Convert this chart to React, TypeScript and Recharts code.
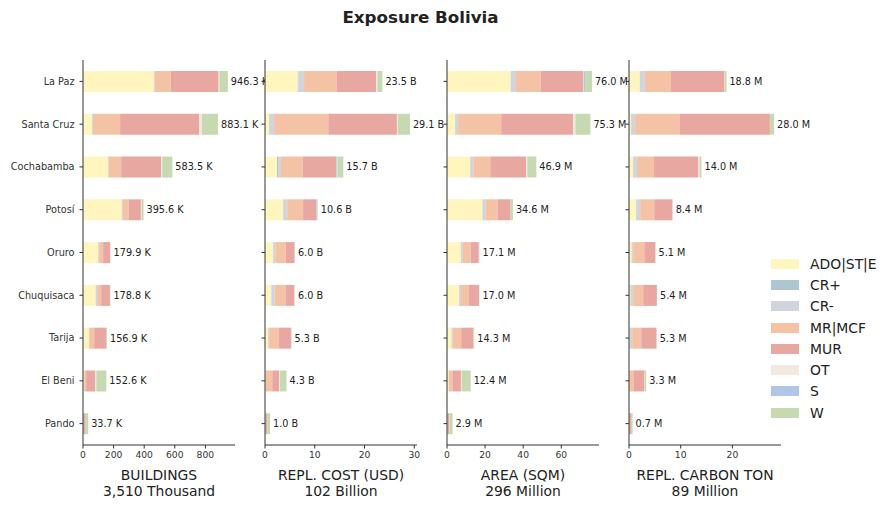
import { BarChart, Bar, XAxis, YAxis, LabelList } from "recharts";

const regions = ["La Paz", "Santa Cruz", "Cochabamba", "Potosí", "Oruro", "Chuquisaca", "Tarija", "El Beni", "Pando"];

const seriesKeys = ["ADO|ST|E", "CR+", "CR-", "MR|MCF", "MUR", "OT", "S", "W"];
const seriesColors = ["#fff6bf", "#aec6d0", "#d0d4dc", "#f4c3a6", "#e8a8a1", "#f2e8dd", "#b1c5e6", "#c6d9b1"];

// buildings, thousands
const buildings: Record<string, number[]> = {
  "ADO|ST|E": [463, 59, 164, 254, 99, 83, 39, 8, 1],
  "CR+": [0.5, 0.5, 0.5, 0.5, 0.3, 0.3, 0.2, 0.1, 0],
  "CR-": [5, 6, 6, 6, 6, 9, 1, 0.5, 0],
  "MR|MCF": [105, 177, 79, 39, 26, 26, 33, 12, 1],
  MUR: [313, 518, 262, 79, 46, 58, 77, 60, 11],
  OT: [5, 17, 6, 4, 2, 0.5, 0.7, 6, 0.7],
  S: [0.5, 0.5, 0.5, 0.3, 0.2, 0.2, 0.1, 0.1, 0],
  W: [55, 105, 66, 13, 1, 2, 6, 66, 20],
};
const buildingTotals = [946.3, 883.1, 583.5, 395.6, 179.9, 178.8, 156.9, 152.6, 33.7];

// replacement cost, billion USD
const replCost: Record<string, number[]> = {
  "ADO|ST|E": [6.6, 0.8, 2.4, 3.6, 1.6, 1.25, 0.6, 0.1, 0.05],
  "CR+": [0.05, 0.02, 0.2, 0.05, 0.05, 0.05, 0.02, 0.01, 0],
  "CR-": [1.2, 1.0, 0.6, 0.8, 0.4, 0.6, 0.2, 0.05, 0],
  "MR|MCF": [6.6, 10.9, 4.4, 3.2, 2.1, 2.2, 2.0, 1.3, 0.1],
  MUR: [7.9, 13.8, 6.7, 2.6, 1.8, 1.8, 2.4, 1.4, 0.3],
  OT: [0.2, 0.2, 0.05, 0.05, 0.02, 0.1, 0.02, 0.15, 0.01],
  S: [0.05, 0.02, 0.2, 0.2, 0.02, 0.02, 0.01, 0.01, 0],
  W: [1.0, 2.4, 1.2, 0.1, 0.02, 0.02, 0.1, 1.3, 0.54],
};
const costTotals = [23.5, 29.1, 15.7, 10.6, 6.0, 6.0, 5.3, 4.3, 1.0];

// area, million sqm
const area: Record<string, number[]> = {
  "ADO|ST|E": [33.5, 4.2, 12.1, 18.6, 7.25, 6.3, 2.3, 0.9, 0.1],
  "CR+": [0.1, 0.05, 0.1, 0.1, 0.05, 0.05, 0.05, 0.02, 0],
  "CR-": [2.6, 1.6, 1.6, 1.6, 1.0, 1.0, 0.6, 0.1, 0],
  "MR|MCF": [13.1, 22.6, 8.9, 6.3, 4.2, 4.2, 4.5, 2.1, 0.2],
  MUR: [22.1, 37.9, 18.9, 6.8, 4.2, 5.25, 6.3, 4.2, 1.0],
  OT: [0.3, 1.0, 0.5, 0.1, 0.3, 0.05, 0.05, 0.4, 0.02],
  S: [0.8, 0.05, 0.1, 0.1, 0.05, 0.05, 0.02, 0.02, 0],
  W: [3.6, 7.9, 4.7, 1.0, 0.05, 0.1, 0.5, 4.7, 1.6],
};
const areaTotals = [76.0, 75.3, 46.9, 34.6, 17.1, 17.0, 14.3, 12.4, 2.9];

// replacement carbon, million ton
const carbon: Record<string, number[]> = {
  "ADO|ST|E": [2.1, 0.39, 0.78, 1.36, 0.5, 0.3, 0.15, 0.05, 0.02],
  "CR+": [0.02, 0.01, 0.1, 0.02, 0.02, 0.2, 0.02, 0, 0],
  "CR-": [0.95, 0.78, 0.65, 0.78, 0.3, 0.3, 0.45, 0.02, 0],
  "MR|MCF": [5.05, 8.58, 3.31, 2.73, 2.14, 1.95, 1.75, 0.9, 0.08],
  MUR: [10.3, 17.5, 8.58, 3.51, 2.14, 2.65, 2.95, 1.95, 0.4],
  OT: [0.02, 0.02, 0.2, 0.01, 0.01, 0.01, 0.01, 0.05, 0],
  S: [0.01, 0.01, 0.01, 0.01, 0.01, 0.01, 0, 0, 0],
  W: [0.4, 0.78, 0.39, 0.02, 0.01, 0.01, 0.02, 0.35, 0.2],
};
const carbonTotals = [18.8, 28.0, 14.0, 8.4, 5.1, 5.4, 5.3, 3.3, 0.7];

const panels = [
  { values: buildings, totals: buildingTotals, unit: "K", ticks: [0, 200, 400, 600, 800], title: "BUILDINGS", sub: "3,510 Thousand" },
  { values: replCost, totals: costTotals, unit: "B", ticks: [0, 10, 20, 30], title: "REPL. COST (USD)", sub: "102 Billion" },
  { values: area, totals: areaTotals, unit: "M", ticks: [0, 20, 40, 60], title: "AREA (SQM)", sub: "296 Million" },
  { values: carbon, totals: carbonTotals, unit: "M", ticks: [0, 10, 20], title: "REPL. CARBON TON", sub: "89 Million" },
];

const FONT = "'DejaVu Sans', sans-serif";
const AXIS = "#333";
const PLOT_LEFT = 83;
const PLOT_W = 152;
const STEP = 182;

function Panel({ idx }: { idx: number }) {
  const p = panels[idx];
  const rows = regions.map((r, i) => {
    const row: Record<string, string | number> = { region: r, label: `${p.totals[i].toFixed(1)} ${p.unit}` };
    seriesKeys.forEach((k) => { row[k] = p.values[k][i]; });
    return row;
  });
  const max = Math.max(...p.totals) * 1.05;

  return (
    <div style={{ position: "absolute", left: STEP * idx, top: 0 }}>
      <BarChart layout="vertical" data={rows} width={PLOT_LEFT + PLOT_W + 60} height={510}
        margin={{ top: 60, right: 60, bottom: 35, left: 0 }}>
        <XAxis type="number" domain={[0, max]} ticks={p.ticks} height={30} allowDataOverflow
          stroke={AXIS} tickSize={3.5} tickMargin={3}
          tick={{ fill: "#333", fontSize: 9.2, fontFamily: FONT }} />
        <YAxis type="category" dataKey="region" width={PLOT_LEFT} interval={0}
          stroke={AXIS} tickSize={3.5} tickMargin={5}
          tickFormatter={idx === 0 ? undefined : () => ""}
          tick={{ fill: "#333", fontSize: 9.7, fontFamily: FONT }} />
        {seriesKeys.map((k, si) => (
          <Bar key={k} dataKey={k} stackId="a" fill={seriesColors[si]} barSize={21} isAnimationActive={false}>
            {si === seriesKeys.length - 1 && (
              <LabelList dataKey="label" position="right" offset={3} fill="#222" fontSize={9.7} fontFamily={FONT} />
            )}
          </Bar>
        ))}
      </BarChart>
      <div style={{ position: "absolute", left: PLOT_LEFT, width: PLOT_W, top: 467, textAlign: "center",
        fontSize: 13.9, lineHeight: "16px", color: "#222", fontFamily: FONT }}>
        <div>{p.title}</div>
        <div>{p.sub}</div>
      </div>
    </div>
  );
}

export default function App() {
  return (
    <div style={{ position: "absolute", left: 0, top: 0, width: 892, height: 510, background: "#fff", fontFamily: FONT, overflow: "hidden" }}>
      <div style={{ position: "absolute", left: 0, width: 841, top: 7, textAlign: "center", fontSize: 16.7, fontWeight: 700, color: "#222" }}>
        Exposure Bolivia
      </div>
      {panels.map((_, i) => <Panel key={i} idx={i} />)}

      {/* legend */}
      <div style={{ position: "absolute", left: 771, top: 253 }}>
        {seriesKeys.map((k, i) => (
          <div key={k} style={{ display: "flex", alignItems: "center", height: 21.3 }}>
            <div style={{ width: 28, height: 10, background: seriesColors[i] }} />
            <span style={{ marginLeft: 11, fontSize: 13.9, color: "#222" }}>{k}</span>
          </div>
        ))}
      </div>
    </div>
  );
}
